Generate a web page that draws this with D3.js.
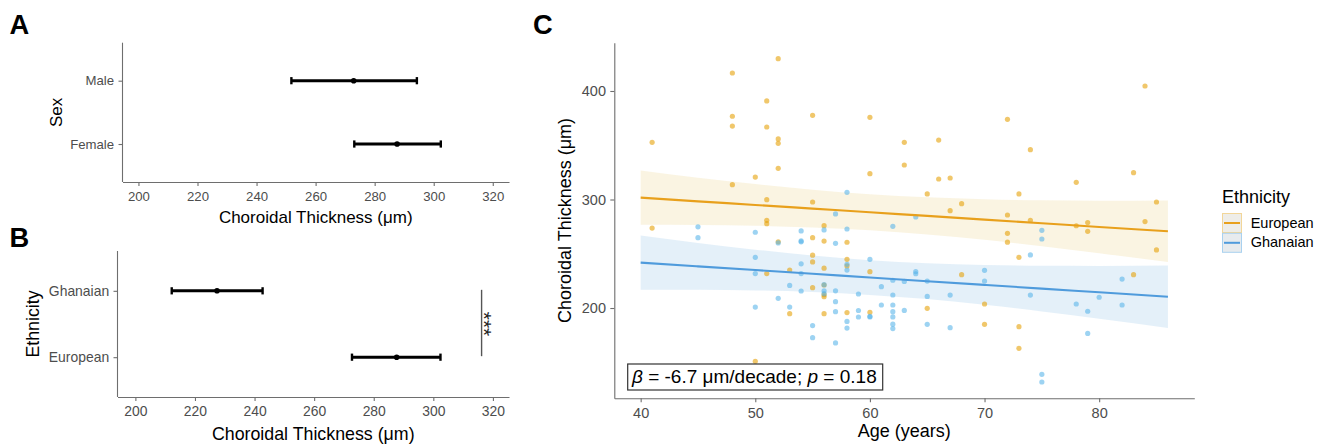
<!DOCTYPE html>
<html>
<head>
<meta charset="utf-8">
<script src="https://cdn.jsdelivr.net/npm/d3@7"></script>
<style>
body { margin: 0; background: #fff; }
svg { display: block; font-family: "Liberation Sans", Arial, sans-serif; }
</style>
</head>
<body>
<div id="chart"></div>
<script>
// panel A: sex
const sexCats = ["Male", "Female"];
const sexMean = [272.9, 287.6];
const sexLo = [251.8, 273.1];
const sexHi = [294.3, 302.4];

// panel B: ethnicity
const ethCats = ["Ghanaian", "European"];
const ethMean = [227.4, 287.7];
const ethLo = [212.2, 272.7];
const ethHi = [242.7, 302.4];
const sigX = 316.2;

const ctTicks = [200, 220, 240, 260, 280, 300, 320];

// panel C: scatter of age vs choroidal thickness
const eurAge = [41, 41, 48, 48, 48, 48, 50, 50, 51, 51, 51, 51, 51, 51,
  52, 52, 52, 52, 52, 53, 53, 55, 55, 55, 55, 55, 55,
  56, 56, 56, 56, 56, 56, 56, 58, 58, 58, 58, 60, 60, 60, 60,
  63, 63, 65, 65, 66, 66, 67, 67, 68, 68, 70, 70,
  72, 72, 72, 72, 73, 73, 73, 73, 74, 74, 78, 78, 79, 79, 83, 83, 84, 84, 85, 85];
const eurCT = [352.7, 273.7, 416.6, 376.7, 367.7, 313.7, 320.7, 150.9, 390.8, 366.8, 299.8, 280.8, 277.7, 231.7,
  429.8, 355.8, 351.8, 328.7, 261.0, 235.0, 194.8, 377.6, 297.7, 264.8, 248.7, 242.5, 218.7,
  275.9, 261.7, 236.7, 221.2, 212.3, 210.4, 194.8, 260.6, 244.9, 238.8, 195.8, 375.7, 323.8, 233.5, 196.0,
  352.7, 331.8, 305.1, 199.7, 354.8, 318.9, 319.8, 289.7, 296.2, 230.7, 203.7, 185.0,
  373.9, 285.7, 268.8, 260.7, 305.1, 246.7, 182.8, 162.9, 345.9, 280.8, 315.8, 275.8, 278.7, 270.7, 324.7, 230.7, 404.6, 279.7, 297.7, 253.5];

const ghaAge = [45, 45, 50, 50, 50, 50, 52, 52, 53, 53, 54, 54, 54, 54, 54, 54, 55, 55,
  56, 56, 56, 56, 57, 57, 57, 57, 57, 57, 58, 58, 58, 58, 58, 58, 59, 59, 59, 60, 60, 60,
  61, 61, 62, 62, 62, 62, 62, 62, 62, 62, 63, 63, 64, 64, 64, 65, 65, 65, 67, 67,
  70, 70, 74, 74, 75, 75, 75, 75, 78, 79, 79, 80, 82, 82];
const ghaCT = [274.8, 264.8, 269.8, 246.7, 231.7, 200.9, 260.0, 208.9, 220.8, 200.9, 271.0, 261.8, 261.0, 240.7, 231.7, 215.7, 183.8, 172.7,
  272.0, 221.5, 215.9, 213.2, 286.7, 259.6, 215.8, 205.8, 196.6, 167.8, 306.6, 272.8, 240.3, 235.0, 187.6, 181.5, 212.9, 197.7, 191.7, 244.9, 192.3, 191.7,
  219.7, 202.8, 275.3, 225.6, 212.0, 202.8, 196.6, 191.8, 185.1, 181.1, 224.5, 197.8, 283.9, 233.6, 231.6, 224.8, 210.7, 185.0, 211.9, 181.9,
  234.7, 224.9, 248.9, 211.9, 271.6, 263.6, 138.9, 131.8, 203.7, 197.0, 176.6, 209.9, 226.7, 202.8];

// fitted lines and confidence bands, read at these ages
const bandAge = [40, 45, 50, 55, 60, 65, 70, 75, 80, 86];
const eurFit = [301.7, 298.3, 295.0, 291.6, 288.2, 284.9, 281.5, 278.1, 274.7, 270.7];
const eurLo  = [276.7, 276.5, 275.8, 274.2, 271.6, 267.8, 262.8, 257.0, 250.5, 242.3];
const eurHi  = [326.7, 320.1, 314.2, 309.0, 304.8, 302.0, 300.2, 299.2, 298.9, 299.1];
const ghaFit = [241.8, 238.4, 235.0, 231.6, 228.1, 224.7, 221.3, 217.9, 214.5, 210.4];
const ghaLo  = [216.8, 216.8, 216.2, 214.8, 212.1, 208.2, 203.0, 196.9, 190.2, 181.6];
const ghaHi  = [266.8, 260.0, 253.8, 248.4, 244.1, 241.2, 239.6, 238.9, 238.8, 239.2];

const ageTicks = [40, 50, 60, 70, 80];
const thickTicks = [200, 300, 400];

const FONT = "Liberation Sans, Arial, sans-serif";
const axisCol = "#6e6e6e";
const tickCol = "#4d4d4d";
const orange = "#E69F00", blue = "#56B4E9";

const svg = d3.select("#chart").append("svg")
  .attr("width", 1325).attr("height", 446);

function styleAxis(g, fs) {
  g.attr("font-family", FONT).attr("font-size", fs);
  g.select(".domain").attr("stroke", axisCol).attr("stroke-width", 1.1);
  g.selectAll(".tick line").attr("stroke", axisCol).attr("stroke-width", 1.1);
  g.selectAll(".tick text").attr("fill", tickCol);
}

// dot + errorbar panel
function drawDotPanel(opt) {
  const x = d3.scaleLinear().domain(opt.xDomain).range([opt.left, opt.right]);
  const y = d3.scalePoint().domain(opt.cats).range([opt.top, opt.bottom]).padding(0.6);

  const gx = svg.append("g")
    .attr("transform", `translate(0,${opt.bottom})`)
    .call(d3.axisBottom(x).tickValues(ctTicks).tickSize(4).tickPadding(opt.xPad).tickSizeOuter(0));
  styleAxis(gx, opt.tickFs);

  const gy = svg.append("g")
    .attr("transform", `translate(${opt.left},0)`)
    .call(d3.axisLeft(y).tickSize(4).tickPadding(4.4).tickSizeOuter(0));
  styleAxis(gy, opt.tickFs);
  // full-height y axis line
  gy.select(".domain").attr("d", `M0,${opt.top}V${opt.bottom}`);

  const rows = opt.cats.map((c, i) => ({ cat: c, m: opt.mean[i], lo: opt.lo[i], hi: opt.hi[i] }));
  const g = svg.append("g");
  g.selectAll(".bar").data(rows).enter().append("line")
    .attr("x1", d => x(d.lo)).attr("x2", d => x(d.hi))
    .attr("y1", d => y(d.cat)).attr("y2", d => y(d.cat))
    .attr("stroke", "#000").attr("stroke-width", 2.9);
  g.selectAll(".capL").data(rows).enter().append("line")
    .attr("x1", d => x(d.lo)).attr("x2", d => x(d.lo))
    .attr("y1", d => y(d.cat) - 3.6).attr("y2", d => y(d.cat) + 3.6)
    .attr("stroke", "#000").attr("stroke-width", 2.4);
  g.selectAll(".capR").data(rows).enter().append("line")
    .attr("x1", d => x(d.hi)).attr("x2", d => x(d.hi))
    .attr("y1", d => y(d.cat) - 3.6).attr("y2", d => y(d.cat) + 3.6)
    .attr("stroke", "#000").attr("stroke-width", 2.4);
  g.selectAll(".pt").data(rows).enter().append("circle")
    .attr("cx", d => x(d.m)).attr("cy", d => y(d.cat)).attr("r", 2.8).attr("fill", "#000");

  svg.append("text")
    .attr("x", (opt.left + opt.right) / 2).attr("y", opt.titleY)
    .attr("text-anchor", "middle").attr("font-size", opt.titleFs).attr("fill", "#000")
    .text("Choroidal Thickness (\u03bcm)");

  svg.append("text")
    .attr("transform", `translate(${opt.yTitleX},${(opt.top + opt.bottom) / 2}) rotate(-90)`)
    .attr("text-anchor", "middle").attr("font-size", opt.titleFs).attr("fill", "#000")
    .text(opt.yTitle);

  return { x, y };
}

drawDotPanel({
  cats: sexCats, mean: sexMean, lo: sexLo, hi: sexHi,
  xDomain: [194.6, 325.5], left: 122.5, right: 509, top: 42.7, bottom: 182,
  tickFs: 13.2, titleFs: 17, xPad: 5.3, titleY: 222.7, yTitle: "Sex", yTitleX: 62.3
});

const pB = drawDotPanel({
  cats: ethCats, mean: ethMean, lo: ethLo, hi: ethHi,
  xDomain: [194.0, 325.4], left: 117.5, right: 509, top: 251, bottom: 397,
  tickFs: 13.9, titleFs: 17.8, xPad: 5.0, titleY: 440, yTitle: "Ethnicity", yTitleX: 39
});

// significance bracket
svg.append("line")
  .attr("x1", pB.x(sigX)).attr("x2", pB.x(sigX))
  .attr("y1", pB.y(ethCats[0]) - 1).attr("y2", pB.y(ethCats[1]) - 1)
  .attr("stroke", "#555").attr("stroke-width", 1.4);
svg.append("text")
  .attr("transform", `translate(${pB.x(sigX) - 4.5},${(pB.y(ethCats[0]) + pB.y(ethCats[1])) / 2}) rotate(90)`)
  .attr("text-anchor", "middle").attr("font-size", 21).attr("fill", "#222")
  .text("***");

// panel C
const cL = 614.3, cR = 1194.3, cT = 42.7, cB = 398.3;
const xC = d3.scaleLinear().domain([37.7, 88.3]).range([cL, cR]);
const yC = d3.scaleLinear().domain([116.8, 444.5]).range([cB, cT]);

const groups = [
  { name: "European", col: orange, line: "#E8A01C", band: "#faf3e0", age: eurAge, ct: eurCT, fit: eurFit, lo: eurLo, hi: eurHi },
  { name: "Ghanaian", col: blue, line: "#4f9bdc", band: "#e2eff9", age: ghaAge, ct: ghaCT, fit: ghaFit, lo: ghaLo, hi: ghaHi }
];

const area = d3.area().curve(d3.curveMonotoneX)
  .x(d => xC(d.a)).y0(d => yC(d.lo)).y1(d => yC(d.hi));
const line = d3.line().curve(d3.curveMonotoneX)
  .x(d => xC(d.a)).y(d => yC(d.f));

groups.forEach(gr => {
  const rows = bandAge.map((a, i) => ({ a: a, lo: gr.lo[i], hi: gr.hi[i], f: gr.fit[i] }));
  svg.append("path").attr("d", area(rows)).attr("fill", gr.band).attr("fill-opacity", 0.92);
});

groups.forEach(gr => {
  svg.append("g").selectAll("circle")
    .data(gr.age.map((a, i) => ({ a: a, v: gr.ct[i] })))
    .enter().append("circle")
    .attr("cx", d => xC(d.a)).attr("cy", d => yC(d.v)).attr("r", 2.6)
    .attr("fill", gr.col).attr("fill-opacity", 0.58);
});

groups.forEach(gr => {
  const rows = bandAge.map((a, i) => ({ a: a, f: gr.fit[i] }));
  svg.append("path").attr("d", line(rows)).attr("fill", "none")
    .attr("stroke", gr.line).attr("stroke-width", 2.1);
});

const gxC = svg.append("g").attr("transform", `translate(0,${cB})`)
  .call(d3.axisBottom(xC).tickValues(ageTicks).tickSize(4).tickPadding(5.4).tickSizeOuter(0));
styleAxis(gxC, 14.5);
const gyC = svg.append("g").attr("transform", `translate(${cL},0)`)
  .call(d3.axisLeft(yC).tickValues(thickTicks).tickSize(4).tickPadding(4.3).tickSizeOuter(0));
styleAxis(gyC, 14.5);

svg.append("text")
  .attr("x", (cL + cR) / 2).attr("y", 436.7)
  .attr("text-anchor", "middle").attr("font-size", 18).attr("fill", "#000")
  .text("Age (years)");
svg.append("text")
  .attr("transform", `translate(570.5,${(cT + cB) / 2}) rotate(-90)`)
  .attr("text-anchor", "middle").attr("font-size", 18).attr("fill", "#000")
  .text("Choroidal Thickness (\u03bcm)");

// annotation box
svg.append("rect")
  .attr("x", 627.7).attr("y", 364).attr("width", 255).attr("height", 26)
  .attr("fill", "#fff").attr("stroke", "#333").attr("stroke-width", 1.2);
const ann = svg.append("text").attr("x", 632).attr("y", 383.3)
  .attr("font-size", 19).attr("fill", "#000");
ann.append("tspan").attr("font-style", "italic").text("\u03b2");
ann.append("tspan").text(" = -6.7 \u03bcm/decade; ");
ann.append("tspan").attr("font-style", "italic").text("p");
ann.append("tspan").text(" = 0.18");

// legend
const leg = svg.append("g").attr("transform", "translate(1222,0)");
leg.append("text").attr("x", 0).attr("y", 202.7).attr("font-size", 18).attr("fill", "#000").text("Ethnicity");
const keyFill = ["#eeede8", "#e7ebee"];
const keyEdge = ["#f2d699", "#a9d1ef"];
groups.forEach((gr, i) => {
  const y0 = 213.5 + i * 19.8;
  leg.append("rect").attr("x", 0.5).attr("y", y0).attr("width", 19).attr("height", 19)
    .attr("fill", keyFill[i]).attr("stroke", keyEdge[i]).attr("stroke-width", 1);
  leg.append("line").attr("x1", 2).attr("x2", 18).attr("y1", y0 + 9.5).attr("y2", y0 + 9.5)
    .attr("stroke", gr.line).attr("stroke-width", 2);
  leg.append("text").attr("x", 28.7).attr("y", y0 + 14).attr("font-size", 14.5).attr("fill", "#000")
    .text(gr.name);
});

// panel letters
[["A", 9.5, 34.3], ["B", 9.5, 247], ["C", 533, 33.5]].forEach(([t, x, y]) => {
  svg.append("text").attr("x", x).attr("y", y).attr("font-size", 27.3)
    .attr("font-weight", "bold").attr("fill", "#000").text(t);
});
</script>
</body>
</html>
